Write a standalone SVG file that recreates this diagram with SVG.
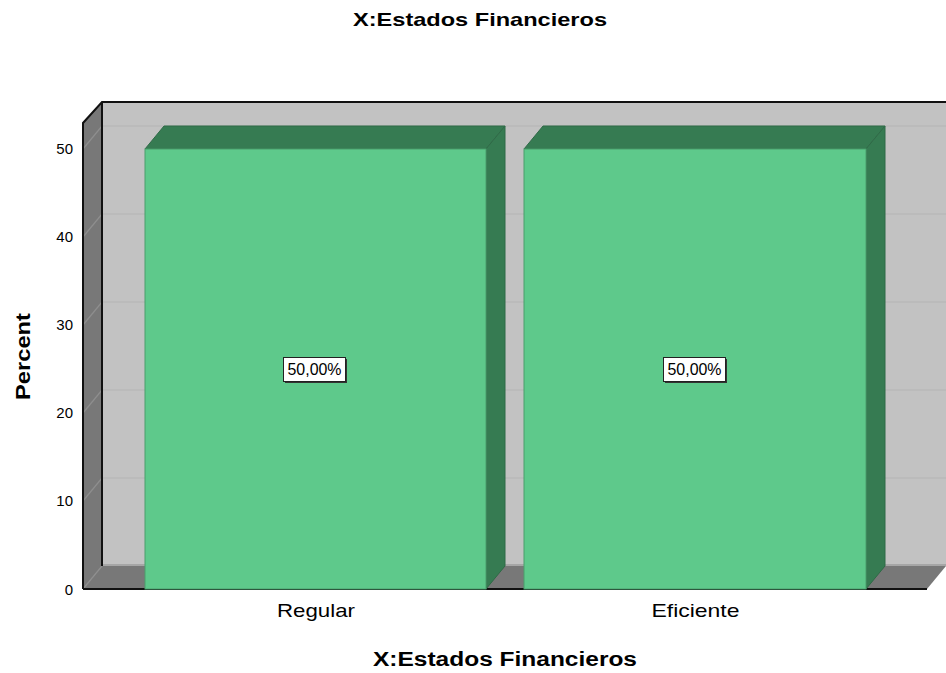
<svg xmlns="http://www.w3.org/2000/svg" width="946" height="673" viewBox="0 0 946 673">
<style>
.t{font-family:"Liberation Sans",Arial,sans-serif;fill:#000}
.title{font-weight:bold;text-anchor:middle}
.tick{font-size:15px;text-anchor:end}
.cat{font-size:19px;text-anchor:middle}
.lbl{font-size:16px;text-anchor:middle}
.grid{stroke:#b4b4b4;stroke-width:1.2;fill:none}
.sgrid{stroke:#8e8e8e;stroke-width:1.2;fill:none}
.front{fill:#5ec98b;stroke:#4a9e6c;stroke-width:1}
.dark{fill:#367b52;stroke:#2f6a47;stroke-width:1}
.box{fill:#fff;stroke:#222;stroke-width:1}
</style>
<rect width="946" height="673" fill="#fff"/>
<text class="t title" x="480" y="25.5" font-size="18.5" textLength="254" lengthAdjust="spacingAndGlyphs">X:Estados Financieros</text>
<g id="frame">
<rect x="102" y="102" width="844" height="464" fill="#c2c2c2"/>
<polygon points="83,123 102,102 102,566 83,589" fill="#787878"/>
<polygon points="83,589 102,566 946,566 927,589" fill="#787878"/>
<line x1="102" y1="565" x2="946" y2="565" stroke="#a6a6a6" stroke-width="2"/>
<g class="grid">
<line x1="102" y1="478" x2="946" y2="478"/>
<line x1="102" y1="390" x2="946" y2="390"/>
<line x1="102" y1="302" x2="946" y2="302"/>
<line x1="102" y1="214" x2="946" y2="214"/>
<line x1="102" y1="126" x2="946" y2="126"/>
</g>
<g class="sgrid">
<line x1="83" y1="501" x2="102" y2="478"/>
<line x1="83" y1="413" x2="102" y2="390"/>
<line x1="83" y1="325" x2="102" y2="302"/>
<line x1="83" y1="237" x2="102" y2="214"/>
<line x1="83" y1="149" x2="102" y2="126"/>
<line x1="83" y1="589" x2="102" y2="566"/>
</g>
<g stroke="#111" stroke-width="2" fill="none">
<polyline points="83,589 83,123 102,102 946,102"/>
<line x1="102" y1="102" x2="102" y2="566"/>
<line x1="83" y1="589" x2="927" y2="589"/>
</g>
</g>
<g id="axis">
<text class="t tick" x="73" y="154">50</text>
<text class="t tick" x="73" y="242">40</text>
<text class="t tick" x="73" y="330">30</text>
<text class="t tick" x="73" y="418">20</text>
<text class="t tick" x="73" y="506">10</text>
<text class="t tick" x="73" y="595">0</text>
<text class="t title" transform="translate(30,356.5) rotate(-90)" font-size="20" textLength="87" lengthAdjust="spacingAndGlyphs">Percent</text>
</g>
<g id="bar-regular">
<polygon class="dark" points="145,149 164,126 505,126 486,149"/>
<polygon class="dark" points="486,149 505,126 505,566 486,589"/>
<rect class="front" x="145" y="149" width="341" height="440"/>
<rect x="285" y="359" width="62" height="24" fill="#333"/>
<rect class="box" x="283.5" y="357.5" width="62" height="24"/>
<text class="t lbl" x="314.5" y="375" textLength="54" lengthAdjust="spacingAndGlyphs">50,00%</text>
</g>
<g id="bar-eficiente">
<polygon class="dark" points="524,149 543,126 885,126 866,149"/>
<polygon class="dark" points="866,149 885,126 885,566 866,589"/>
<rect class="front" x="524" y="149" width="342" height="440"/>
<rect x="665" y="359" width="62" height="24" fill="#333"/>
<rect class="box" x="663.5" y="357.5" width="62" height="24"/>
<text class="t lbl" x="694.5" y="375" textLength="54" lengthAdjust="spacingAndGlyphs">50,00%</text>
</g>
<g id="connectors"></g>
<text class="t cat" x="316" y="617" textLength="78" lengthAdjust="spacingAndGlyphs">Regular</text>
<text class="t cat" x="695.5" y="617" textLength="88" lengthAdjust="spacingAndGlyphs">Eficiente</text>
<text class="t title" x="505" y="666" font-size="20" textLength="264" lengthAdjust="spacingAndGlyphs">X:Estados Financieros</text>
</svg>
